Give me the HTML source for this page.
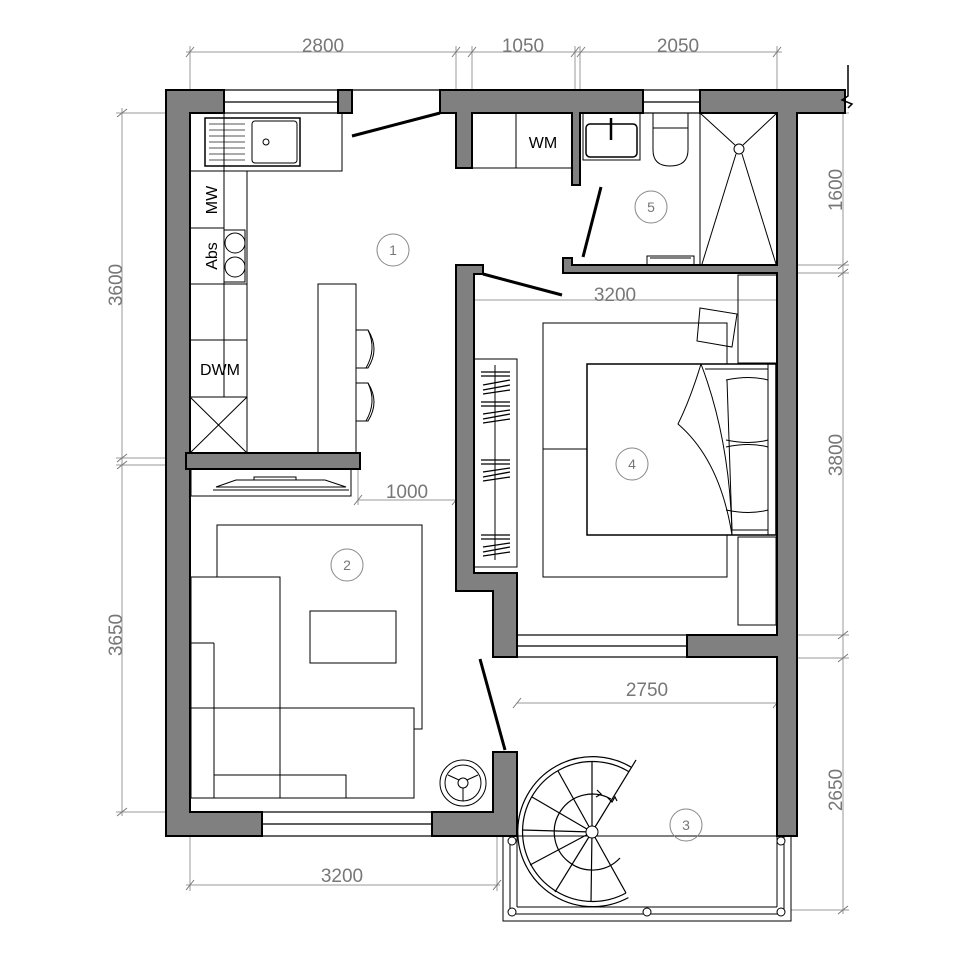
<!DOCTYPE html>
<html><head><meta charset="utf-8"><style>html,body{margin:0;padding:0;background:#fff}svg{display:block}</style></head>
<body>
<svg width="970" height="970" viewBox="0 0 970 970" xmlns="http://www.w3.org/2000/svg" font-family="Liberation Sans, sans-serif">
<rect width="970" height="970" fill="#fff"/>
<g stroke="#999" stroke-width="1" fill="none">
<line x1="186" y1="52" x2="782" y2="52"/>
<line x1="190" y1="46" x2="190" y2="118"/><line x1="456" y1="46" x2="456" y2="118"/><line x1="472" y1="46" x2="472" y2="118"/><line x1="575" y1="46" x2="575" y2="118"/><line x1="580" y1="46" x2="580" y2="118"/><line x1="777" y1="46" x2="777" y2="118"/>
<line x1="122" y1="108" x2="122" y2="816"/>
<line x1="116" y1="113" x2="190" y2="113"/><line x1="116" y1="458" x2="190" y2="458"/><line x1="116" y1="465" x2="190" y2="465"/><line x1="116" y1="812" x2="190" y2="812"/>
<line x1="843" y1="108" x2="843" y2="914"/>
<line x1="797" y1="113" x2="849" y2="113"/><line x1="777" y1="265" x2="849" y2="265"/><line x1="777" y1="273" x2="849" y2="273"/><line x1="777" y1="635" x2="849" y2="635"/><line x1="777" y1="658" x2="849" y2="658"/><line x1="791" y1="910" x2="849" y2="910"/>
<line x1="186" y1="885" x2="500" y2="885"/><line x1="190" y1="836" x2="190" y2="891"/><line x1="497" y1="836" x2="497" y2="891"/>
<line x1="472" y1="300" x2="777" y2="300"/>
<line x1="358" y1="500" x2="456" y2="500"/><line x1="358" y1="470" x2="358" y2="505"/>
<line x1="517" y1="703" x2="777" y2="703"/>
<g stroke="#777"><line x1="186" y1="57" x2="194" y2="47"/><line x1="452" y1="57" x2="460" y2="47"/><line x1="468" y1="57" x2="476" y2="47"/><line x1="571" y1="57" x2="579" y2="47"/><line x1="577" y1="57" x2="585" y2="47"/><line x1="773" y1="57" x2="781" y2="47"/>
<line x1="117" y1="117" x2="127" y2="109"/><line x1="117" y1="462" x2="127" y2="454"/><line x1="117" y1="469" x2="127" y2="461"/><line x1="117" y1="816" x2="127" y2="808"/>
<line x1="838" y1="269" x2="848" y2="261"/><line x1="838" y1="277" x2="848" y2="269"/><line x1="838" y1="639" x2="848" y2="631"/><line x1="838" y1="662" x2="848" y2="654"/><line x1="838" y1="914" x2="848" y2="906"/>
<line x1="186" y1="890" x2="194" y2="880"/><line x1="493" y1="890" x2="501" y2="880"/>
<line x1="354" y1="505" x2="362" y2="495"/><line x1="452" y1="505" x2="460" y2="495"/>
<line x1="513" y1="708" x2="521" y2="698"/><line x1="773" y1="708" x2="781" y2="698"/></g>
</g>
<g fill="#777" font-size="19" text-anchor="middle">
<text x="323" y="52">2800</text><text x="523" y="52">1050</text><text x="678" y="52">2050</text>
<text x="342" y="882">3200</text><text x="615" y="301">3200</text><text x="407" y="498">1000</text><text x="647" y="696">2750</text>
<text transform="translate(122,285) rotate(-90)">3600</text>
<text transform="translate(122,635) rotate(-90)">3650</text>
<text transform="translate(842,190) rotate(-90)">1600</text>
<text transform="translate(842,455) rotate(-90)">3800</text>
<text transform="translate(842,790) rotate(-90)">2650</text>
</g>
<g stroke="#000" stroke-width="1.2" fill="#fff">
<rect x="224" y="90" width="114" height="23"/><line x1="224" y1="102" x2="338" y2="102"/>
<rect x="643" y="90" width="57" height="23"/><line x1="643" y1="102" x2="700" y2="102"/>
<rect x="262" y="812" width="170" height="24"/><line x1="262" y1="824" x2="432" y2="824"/>
<rect x="517" y="635" width="170" height="22"/><line x1="517" y1="646" x2="687" y2="646"/>
<line x1="352" y1="90" x2="440" y2="90"/>
</g>
<g fill="#808080" stroke="#000" stroke-width="2">
<polygon points="166,90 224,90 224,113 190,113 190,812 262,812 262,836 166,836"/>
<rect x="338" y="90" width="14" height="23"/>
<polygon points="440,90 643,90 643,113 580,113 580,185 572,185 572,113 472,113 472,168 456,168 456,113 440,113"/>
<polygon points="700,90 845,90 845,113 797,113 797,836 777,836 777,657 687,657 687,635 777,635 777,273 580,273 580,273 563,273 563,258 572,258 572,265 777,265 777,113 700,113"/>
<rect x="186" y="453" width="174" height="16"/>
<polygon points="456,265 483,265 483,274 474,274 474,573 517,573 517,657 493,657 493,591 456,591"/>
<polygon points="493,752 517,752 517,836 432,836 432,812 493,812"/>
</g>
<path d="M848 65 L848 96 L842 100 L852 104 L848 108" stroke="#000" fill="none" stroke-width="1.5"/>
<g stroke="#000" stroke-width="3">
<line x1="352" y1="136" x2="440" y2="113"/>
<line x1="601" y1="187" x2="583" y2="257"/>
<line x1="483" y1="274" x2="562" y2="295"/>
<line x1="480" y1="659" x2="505" y2="750"/>
</g>
<g stroke="#000" stroke-width="1" fill="none">
<rect x="190" y="113" width="152" height="58"/>
<rect x="205" y="118" width="95" height="48" stroke-width="1.5"/>
<rect x="252" y="121" width="45" height="42" rx="3"/>
<circle cx="266" cy="142" r="3"/>
<g stroke="#555"><line x1="209" y1="124" x2="245" y2="124"/><line x1="209" y1="130" x2="245" y2="130"/><line x1="209" y1="136" x2="245" y2="136"/><line x1="209" y1="142" x2="245" y2="142"/><line x1="209" y1="148" x2="245" y2="148"/><line x1="209" y1="154" x2="245" y2="154"/><line x1="209" y1="160" x2="245" y2="160"/></g>
<rect x="190" y="171" width="57" height="282"/>
<line x1="224" y1="113" x2="224" y2="397"/>
<line x1="190" y1="228" x2="224" y2="228"/><line x1="190" y1="284" x2="247" y2="284"/><line x1="190" y1="340" x2="247" y2="340"/><line x1="190" y1="397" x2="247" y2="397"/>
<rect x="224" y="230" width="21" height="52"/>
<circle cx="235" cy="243" r="10"/><circle cx="235" cy="267" r="10"/>
<line x1="190" y1="397" x2="247" y2="453"/><line x1="247" y1="397" x2="190" y2="453"/>
<rect x="318" y="284" width="38" height="169"/>
<path d="M356 330 L368 330 Q380 349 368 368 L356 368"/><path d="M368 330 Q377 349 366 368"/>
<path d="M356 383 L368 383 Q380 402 368 421 L356 421"/><path d="M368 383 Q377 402 366 421"/>
<rect x="472" y="113" width="100" height="55"/><line x1="516" y1="113" x2="516" y2="168"/>
<rect x="583" y="113" width="57" height="47"/>
<rect x="586" y="124" width="51" height="33" rx="4" stroke-width="1.5"/>
<line x1="611" y1="118" x2="611" y2="140" stroke-width="2.5"/>
<path d="M653 113 L653 150 Q653 166 670 166 Q688 166 688 150 L688 113"/><line x1="653" y1="128" x2="688" y2="128"/>
<rect x="700" y="113" width="77" height="152"/>
<line x1="700" y1="113" x2="735" y2="145"/><line x1="777" y1="113" x2="743" y2="145"/>
<circle cx="739" cy="149" r="5"/>
<line x1="736" y1="154" x2="702" y2="264"/><line x1="742" y1="154" x2="776" y2="264"/>
<path d="M647 265 L647 256 L694 256 L694 265 M650 258 L691 258"/>
<rect x="474" y="359" width="43" height="208"/>
<line x1="495" y1="365" x2="495" y2="560"/>
<g stroke-width="1.3">
<path d="M481 372 L510 372 M481 376 L510 376 M483 385 L510 380 M483 390 L510 385 M483 394 L510 390"/>
<path d="M481 402 L510 402 M481 406 L510 406 M483 414 L510 410 M483 419 L510 414 M483 423 L510 419"/>
<path d="M481 460 L510 460 M481 464 L510 464 M483 472 L510 468 M483 477 L510 472 M483 481 L510 477"/>
<path d="M481 535 L510 535 M481 539 L510 539 M483 547 L510 543 M483 552 L510 547 M483 556 L510 552"/>
</g>
<path d="M727 364 L727 323 L543 323 L543 577 L727 577 L727 535"/>
<line x1="543" y1="449" x2="587" y2="449"/>
<rect x="587" y="364" width="189" height="171" stroke-width="1.5"/>
<line x1="768" y1="364" x2="768" y2="535"/><line x1="705" y1="369" x2="768" y2="369"/><line x1="732" y1="530" x2="768" y2="530"/>
<path d="M726 380 Q750 375 768 380 M726 440 Q750 445 768 440 M726 447 Q750 442 768 447 M726 510 Q750 515 768 510"/>
<path d="M727 380 L732 530"/>
<path d="M701 364 Q730 440 732 535 M701 364 Q690 400 678 424 Q720 460 732 535"/>
<polygon points="700,308 737,314 732,347 697,341"/>
<rect x="738" y="275" width="39" height="88"/>
<rect x="738" y="537" width="38" height="88"/>
<rect x="191" y="469" width="160" height="27"/>
<path d="M216 487 L236 480 L325 480 L346 487 Z M213 490 L349 490 M254 480 L254 477 L296 477 L296 480"/>
<path d="M217 577 L217 525 L422 525 L422 729 L414 729"/>
<rect x="191" y="577" width="89" height="221"/>
<rect x="191" y="708" width="223" height="90"/>
<line x1="214" y1="643" x2="214" y2="798"/><line x1="191" y1="643" x2="214" y2="643"/>
<rect x="214" y="775" width="132" height="23"/><line x1="280" y1="708" x2="280" y2="798"/>
<rect x="310" y="611" width="86" height="52"/>
<circle cx="463" cy="783" r="23"/><circle cx="463" cy="783" r="18"/><circle cx="463" cy="783" r="5"/>
<line x1="463" y1="788" x2="463" y2="801"/><line x1="459" y1="780" x2="448" y2="775"/><line x1="467" y1="780" x2="478" y2="775"/>
<rect x="503" y="836" width="288" height="85"/>
<path d="M510 836 L510 914 L784 914 L784 836"/>
<line x1="517" y1="907" x2="777" y2="907"/>
<line x1="517" y1="836" x2="517" y2="907"/>
<line x1="777" y1="836" x2="777" y2="907"/>
</g>
<g fill="#fff" stroke="#000" stroke-width="1"><circle cx="512" cy="841" r="4"/><circle cx="781" cy="841" r="4"/><circle cx="512" cy="912" r="4"/><circle cx="647" cy="912" r="4"/><circle cx="781" cy="912" r="4"/></g>
<g stroke="#000" stroke-width="1.2" fill="none">
<path d="M631.2 767.2 A75 75 0 1 0 628.4 897.6"/>
<path d="M628.6 771.5 A70 70 0 1 0 626 893"/>
<path d="M611 799 A38 38 0 1 0 620 858"/>
<line x1="592" y1="832" x2="636" y2="760"/>
<line x1="592" y1="832" x2="592" y2="762"/>
<line x1="592" y1="832" x2="558" y2="771"/>
<line x1="592" y1="832" x2="532" y2="797"/>
<line x1="592" y1="832" x2="522" y2="830"/>
<line x1="592" y1="832" x2="530" y2="865"/>
<line x1="592" y1="832" x2="555" y2="892"/>
<line x1="592" y1="832" x2="591" y2="902"/>
<line x1="592" y1="832" x2="626" y2="893"/>
<path d="M597 790 L601 794 L596 797"/>
<path d="M607 797 L612 802 L615 797 L617 801" />
</g>
<circle cx="592" cy="832" r="6" fill="#fff" stroke="#000"/>
<g fill="none" stroke="#888" stroke-width="1"><circle cx="393" cy="250" r="16"/><circle cx="347" cy="565" r="16"/><circle cx="686" cy="825" r="16"/><circle cx="632" cy="464" r="16"/><circle cx="651" cy="207" r="16"/></g>
<g fill="#777" font-size="14" text-anchor="middle"><text x="393" y="255">1</text><text x="347" y="570">2</text><text x="686" y="830">3</text><text x="632" y="469">4</text><text x="651" y="212">5</text></g>
<g fill="#000" font-size="16" text-anchor="middle">
<text x="543" y="148">WM</text>
<text x="220" y="375">DWM</text>
<text transform="translate(217,200) rotate(-90)">MW</text>
<text transform="translate(217,256) rotate(-90)">Abs</text>
</g>
</svg>
</body></html>
